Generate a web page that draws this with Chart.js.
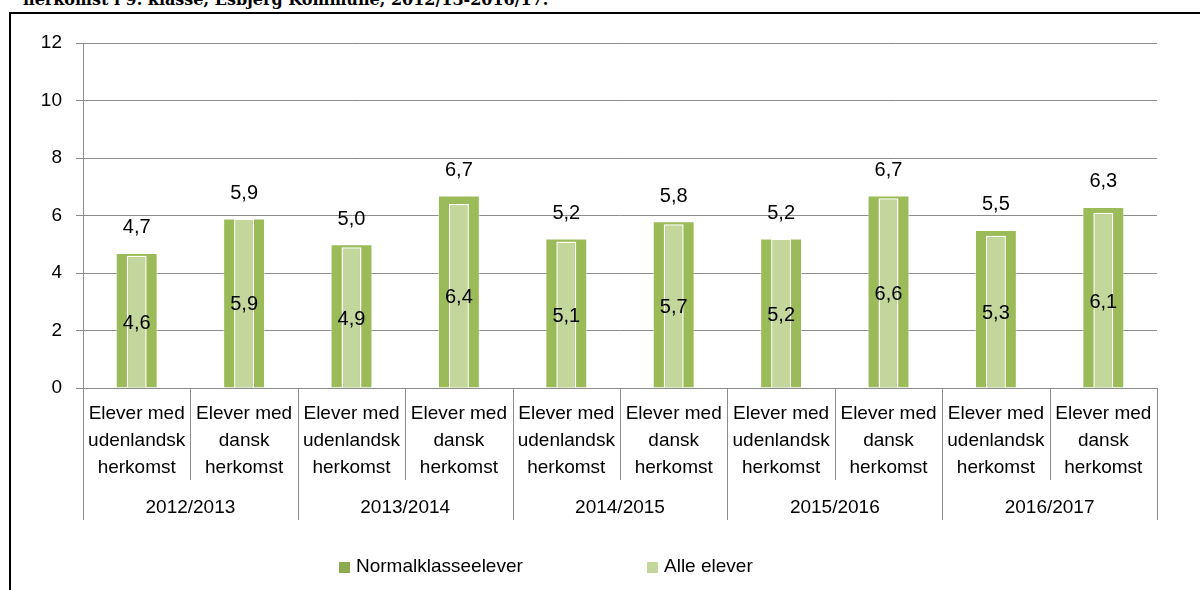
<!DOCTYPE html>
<html>
<head>
<meta charset="utf-8">
<script src="https://cdn.jsdelivr.net/npm/chart.js@4.4.1/dist/chart.umd.min.js"></script>
<style>
  html, body { margin: 0; padding: 0; background: #fff; overflow: hidden; }
  #wrap { position: relative; width: 1200px; height: 590px; overflow: hidden; }
  #title { position: absolute; left: 23px; top: -10px; line-height: 16px; font: bold 16px 'DejaVu Serif', serif; white-space: nowrap; color: #000; }
  #frame { position: absolute; left: 9px; top: 12px; width: 1300px; height: 700px; border: 2px solid #000; }
  #chart { position: absolute; left: 0; top: 0; }
</style>
</head>
<body>
<div id="wrap">
  <div id="title">herkomst i 9. klasse, Esbjerg Kommune, 2012/13-2016/17.</div>
  <div id="frame"></div>
  <canvas id="chart" width="1200" height="590"></canvas>
</div>
<script>
// Data
const years = ['2012/2013', '2013/2014', '2014/2015', '2015/2016', '2016/2017'];
const groups = [['Elever med', 'udenlandsk', 'herkomst'], ['Elever med', 'dansk', 'herkomst']];
const categories = years.flatMap(() => groups);
const normalklasse = [4.7, 5.9, 5.0, 6.7, 5.2, 5.8, 5.2, 6.7, 5.5, 6.3];
const alleElever = [4.6, 5.9, 4.9, 6.4, 5.1, 5.7, 5.2, 6.6, 5.3, 6.1];
const seriesNames = ['Normalklasseelever', 'Alle elever'];
const yMin = 0, yMax = 12, yStep = 2;

const FONT = "'Liberation Sans', Arial, sans-serif";
const DARK = '#9BBB59';
const LIGHT = '#C3D69B';
const AXIS = '#8c8c8c';

const fmt = (v) => v.toFixed(1).replace('.', ',');

// Value labels: dark above its bar, light in the middle of its bar
const valueLabels = {
  id: 'valueLabels',
  afterDatasetsDraw(chart) {
    const ctx = chart.ctx;
    ctx.save();
    ctx.fillStyle = '#000';
    ctx.font = `20px ${FONT}`;
    ctx.textAlign = 'center';
    ctx.textBaseline = 'middle';
    chart.data.datasets.forEach((ds, di) => {
      chart.getDatasetMeta(di).data.forEach((bar, i) => {
        const y = di === 0 ? bar.y - 25 : (bar.y + bar.base) / 2 + 2;
        ctx.fillText(fmt(ds.data[i]), bar.x, y);
      });
    });
    ctx.restore();
  }
};

// Category separators, year row and legend
const groupAxis = {
  id: 'groupAxis',
  afterDraw(chart) {
    const ctx = chart.ctx;
    const xs = chart.scales.x;
    const bottom = chart.chartArea.bottom;
    const n = categories.length;
    const step = (xs.right - xs.left) / n;
    ctx.save();
    ctx.strokeStyle = AXIS;
    ctx.lineWidth = 1;
    for (let i = 0; i <= n; i++) {
      const x = Math.round(xs.left + i * step) + 0.5;
      ctx.beginPath();
      ctx.moveTo(x, bottom);
      ctx.lineTo(x, bottom + (i % 2 === 0 ? 132 : 92));
      ctx.stroke();
    }
    ctx.fillStyle = '#000';
    ctx.font = `19px ${FONT}`;
    ctx.textAlign = 'center';
    ctx.textBaseline = 'middle';
    years.forEach((yr, k) => {
      ctx.fillText(yr, xs.left + (2 * k + 1) * step, bottom + 120);
    });

    // legend
    const items = [
      { x: 339, color: '#8EAA4F', text: seriesNames[0] },
      { x: 647, color: LIGHT, text: seriesNames[1] }
    ];
    ctx.textAlign = 'left';
    items.forEach((it) => {
      ctx.fillStyle = it.color;
      ctx.fillRect(it.x, 562, 11, 11);
      ctx.fillStyle = '#000';
      ctx.fillText(it.text, it.x + 17, 567);
    });
    ctx.restore();
  }
};

const ctx = document.getElementById('chart').getContext('2d');

// slight horizontal shading on the dark bars, like the original
const darkFill = ctx.createLinearGradient(0, 0, 1200, 0);
darkFill.addColorStop(0, DARK);
darkFill.addColorStop(1, DARK);

new Chart(ctx, {
  type: 'bar',
  data: {
    labels: categories,
    datasets: [
      {
        label: seriesNames[0],
        data: normalklasse,
        backgroundColor: darkFill,
        borderColor: 'rgba(255,255,255,0.5)',
        borderWidth: 1,
        barPercentage: 0.39,
        categoryPercentage: 1,
        grouped: false,
        order: 1
      },
      {
        label: seriesNames[1],
        data: alleElever,
        backgroundColor: LIGHT,
        borderColor: '#fff',
        borderWidth: 1.5,
        barPercentage: 0.186,
        categoryPercentage: 1,
        grouped: false,
        order: 0
      }
    ]
  },
  options: {
    responsive: false,
    animation: false,
    layout: { padding: { left: 20, right: 43, top: 43, bottom: 0 } },
    plugins: {
      legend: { display: false },
      tooltip: { enabled: false }
    },
    scales: {
      y: {
        min: yMin,
        max: yMax,
        ticks: { stepSize: yStep, color: '#000', font: { family: FONT, size: 19 }, padding: 14 },
        grid: { color: AXIS, tickLength: 7 },
        border: { color: AXIS },
        afterFit: (s) => { s.width = 63; }
      },
      x: {
        ticks: {
          color: '#000',
          font: { family: FONT, size: 19, lineHeight: 1.42 },
          padding: 4,
          maxRotation: 0,
          autoSkip: false
        },
        grid: { display: false },
        border: { color: AXIS },
        afterFit: (s) => { s.height = 202; }
      }
    }
  },
  plugins: [valueLabels, groupAxis]
});
</script>
</body>
</html>
